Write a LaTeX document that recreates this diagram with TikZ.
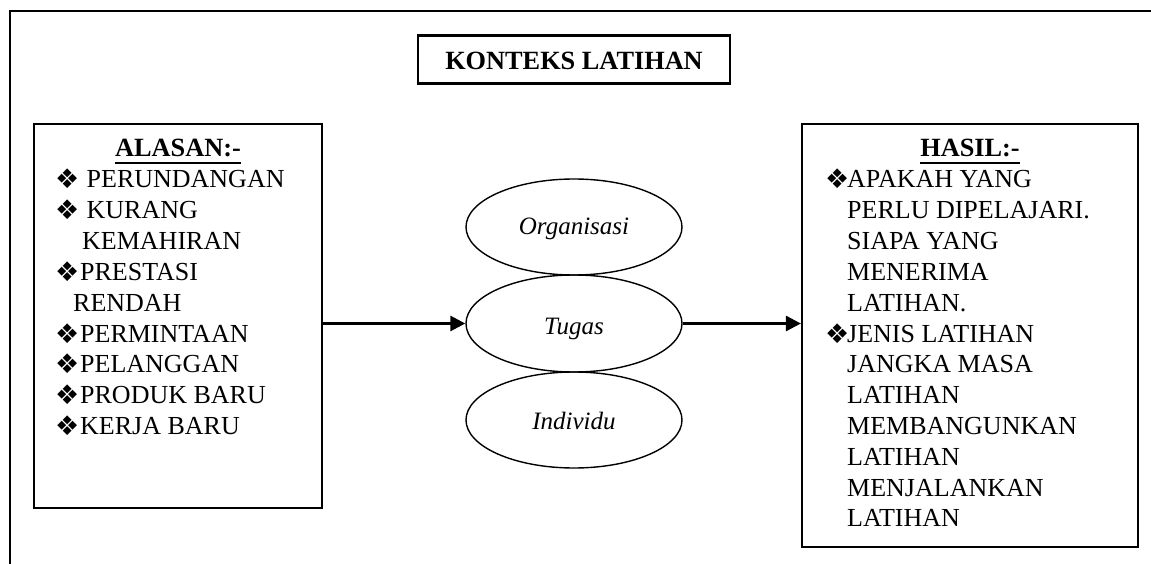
\documentclass[tikz,border=0pt]{standalone}
\usepackage{fontspec}
\setmainfont{Liberation Serif}
\newfontfamily\djfont{DejaVu Sans}
\usetikzlibrary{arrows.meta,shapes.geometric}
\newcommand{\bulL}{\makebox[25pt][l]{\raisebox{-1pt}{\djfont\fontsize{27}{27}\selectfont ❖}}}
\newcommand{\bulR}{\makebox[22pt][l]{\raisebox{-1pt}{\djfont\fontsize{27}{27}\selectfont ❖}}}
\newcommand{\myul}[1]{\setbox0\hbox{#1}\rlap{\vrule width \wd0 height -5pt depth 7.5pt}\box0}
\tikzset{
  frame/.style={line width=2.2pt},
  box/.style={draw, line width=2.2pt, rectangle, inner sep=0pt},
  oval/.style={draw, line width=1.4pt, ellipse, inner sep=0pt},
  ln/.style={anchor=base west, inner sep=0pt, font=\fontsize{26}{30.8}\selectfont},
  hd/.style={anchor=base, inner sep=0pt, font=\fontsize{26.3}{30.8}\selectfont\bfseries},
  ov/.style={anchor=base, inner sep=0pt, font=\fontsize{25}{30}\selectfont\itshape},
  conn/.style={line width=2.8pt, -{Triangle[length=15pt,width=15pt]}}
}
\begin{document}
\begin{tikzpicture}[x=1pt,y=-1pt]
\useasboundingbox (0,0) rectangle (1151,564);
% outer frame
\coordinate (fbl) at (10,564);
\coordinate (ftl) at (10,11);
\coordinate (ftr) at (1151,11);
\draw[frame] (fbl) -- (ftl) -- (ftr);
% title
\node[box, minimum width=312pt, minimum height=48pt] (title) at (574,59.5) {};
\node[hd] (titletext) at (574,70) {KONTEKS LATIHAN};
% left box
\node[box, minimum width=288pt, minimum height=384pt] (lbox) at (178,316) {};
\node[hd] (lhead) at (178,157) {\myul{ALASAN:-}};
\node[ln] (l1) at (55,188) {\bulL\ PERUNDANGAN};
\node[ln] (l2) at (55,218.8) {\bulL\ KURANG};
\node[ln] (l3) at (82,249.6) {KEMAHIRAN};
\node[ln] (l4) at (55,280.4) {\bulL PRESTASI};
\node[ln] (l5) at (73,311.2) {RENDAH};
\node[ln] (l6) at (55,342) {\bulL PERMINTAAN};
\node[ln] (l7) at (55,372.8) {\bulL PELANGGAN};
\node[ln] (l8) at (55,403.6) {\bulL PRODUK BARU};
\node[ln] (l9) at (55,434.4) {\bulL KERJA BARU};
% right box
\node[box, minimum width=336pt, minimum height=423pt] (rbox) at (970,335.5) {};
\node[hd] (rhead) at (970,157) {\myul{HASIL:-}};
\node[ln] (r1) at (825,188) {\bulR APAKAH YANG};
\node[ln] (r2) at (847,218.8) {PERLU DIPELAJARI.};
\node[ln] (r3) at (847,249.6) {SIAPA YANG};
\node[ln] (r4) at (847,280.4) {MENERIMA};
\node[ln] (r5) at (847,311.2) {LATIHAN.};
\node[ln] (r6) at (825,342) {\bulR JENIS LATIHAN};
\node[ln] (r7) at (847,372.8) {JANGKA MASA};
\node[ln] (r8) at (847,403.6) {LATIHAN};
\node[ln] (r9) at (847,434.4) {MEMBANGUNKAN};
\node[ln] (r10) at (847,465.2) {LATIHAN};
\node[ln] (r11) at (847,496) {MENJALANKAN};
\node[ln] (r12) at (847,526.8) {LATIHAN};
% ellipses
\node[oval, minimum width=216pt, minimum height=96pt] (org) at (574,227) {};
\node[oval, minimum width=216pt, minimum height=97pt] (tug) at (574,323.5) {};
\node[oval, minimum width=216pt, minimum height=96pt] (ind) at (574,420) {};
\node[ov] (orgt) at (574,235) {Organisasi};
\node[ov] (tugt) at (574,334) {Tugas};
\node[ov] (indt) at (574,429) {Individu};
% connectors
\draw[conn] (lbox.east |- tug.west) -- (tug.west);
\draw[conn] (tug.east) -- (rbox.west |- tug.east);
\end{tikzpicture}
\end{document}
